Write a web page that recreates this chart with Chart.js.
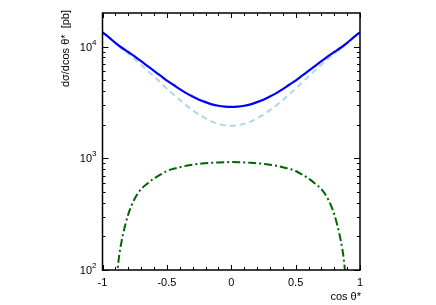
<!DOCTYPE html>
<html>
<head>
<meta charset="utf-8">
<script src="https://cdn.jsdelivr.net/npm/chart.js@4/dist/chart.umd.min.js"></script>
<style>
  html, body { margin: 0; padding: 0; background: #fff; }
</style>
</head>
<body>
<canvas id="chart" width="436" height="305"></canvas>
<script>
// cos theta* grid for the two smooth curves
const cosTheta = [-1, -0.95, -0.9, -0.85, -0.8, -0.75, -0.7, -0.65, -0.6, -0.55, -0.5,
  -0.45, -0.4, -0.35, -0.3, -0.25, -0.2, -0.15, -0.1, -0.05, 0,
  0.05, 0.1, 0.15, 0.2, 0.25, 0.3, 0.35, 0.4, 0.45, 0.5,
  0.55, 0.6, 0.65, 0.7, 0.75, 0.8, 0.85, 0.9, 0.95, 1];

// total (solid blue), pb
const totalXs = [13450, 12080, 10810, 9770, 8955, 8185, 7410, 6700, 6060, 5495, 4970,
  4555, 4163, 3837, 3576, 3352, 3183, 3042, 2954, 2903, 2885,
  2903, 2954, 3042, 3183, 3352, 3576, 3837, 4163, 4555, 4970,
  5495, 6060, 6700, 7410, 8185, 8955, 9770, 10810, 12080, 13450];

// light blue dashed component, pb
const dashedXs = [13450, 12080, 10750, 9580, 8640, 7750, 6880, 6100, 5400, 4780, 4200,
  3750, 3330, 2980, 2700, 2460, 2280, 2130, 2035, 1980, 1960,
  1980, 2035, 2130, 2280, 2460, 2700, 2980, 3330, 3750, 4200,
  4780, 5400, 6100, 6880, 7750, 8640, 9580, 10750, 12080, 13450];

// green dash-dot component, pb
const greenCos = [-0.9, -0.875, -0.85, -0.8, -0.75, -0.7, -0.65, -0.6, -0.55, -0.5,
  -0.45, -0.4, -0.35, -0.3, -0.25, -0.2, -0.15, -0.1, -0.05, 0,
  0.05, 0.1, 0.15, 0.2, 0.25, 0.3, 0.35, 0.4, 0.45, 0.5,
  0.55, 0.6, 0.65, 0.7, 0.75, 0.8, 0.85, 0.875, 0.9];
const greenXs = [60, 122, 185, 315, 435, 530, 596, 660, 715, 770,
  805, 833, 857, 876, 892, 903, 912, 919, 923, 925,
  923, 919, 912, 903, 892, 876, 857, 833, 805, 770,
  715, 660, 596, 530, 435, 315, 185, 122, 60];

// axis ticks
const xMajorTicks = [-1, -0.5, 0, 0.5, 1];
const xMinorTicks = [-0.9, -0.8, -0.7, -0.6, -0.4, -0.3, -0.2, -0.1,
  0.1, 0.2, 0.3, 0.4, 0.6, 0.7, 0.8, 0.9];
const yMajorTicks = [100, 1000, 10000];
const yMajorExp = ["2", "3", "4"];
const yMinorTicks = [200, 300, 400, 500, 600, 700, 800, 900,
  2000, 3000, 4000, 5000, 6000, 7000, 8000, 9000];

const FONT = "'Liberation Sans', Arial, Helvetica, sans-serif";

function pts(xs, ys) {
  return xs.map((x, i) => ({ x: x, y: ys[i] }));
}

// frame, inward ticks, y labels and axis titles
const framePlugin = {
  id: "frame",
  afterDraw(chart) {
    const ctx = chart.ctx;
    const a = chart.chartArea;
    const xs = chart.scales.x;
    const ys = chart.scales.y;
    ctx.save();
    ctx.strokeStyle = "#000";
    ctx.lineWidth = 1;
    ctx.beginPath();
    xMajorTicks.concat(xMinorTicks).forEach(v => {
      const len = xMajorTicks.includes(v) ? 5 : 3;
      const px = Math.round(xs.getPixelForValue(v)) + 0.5;
      ctx.moveTo(px, a.bottom); ctx.lineTo(px, a.bottom - len);
      ctx.moveTo(px, a.top); ctx.lineTo(px, a.top + len);
    });
    yMajorTicks.concat(yMinorTicks).forEach(v => {
      const len = yMajorTicks.includes(v) ? 6 : 3;
      const py = Math.round(ys.getPixelForValue(v)) + 0.5;
      ctx.moveTo(a.left, py); ctx.lineTo(a.left + len, py);
      ctx.moveTo(a.right, py); ctx.lineTo(a.right - len, py);
    });
    ctx.stroke();

    ctx.lineWidth = 1.5;
    ctx.strokeRect(a.left, a.top, a.right - a.left, a.bottom - a.top);

    // y labels 10^n
    ctx.fillStyle = "#000";
    ctx.textAlign = "right";
    ctx.textBaseline = "alphabetic";
    yMajorTicks.forEach((v, i) => {
      const py = ys.getPixelForValue(v);
      ctx.font = "8px " + FONT;
      const ew = ctx.measureText(yMajorExp[i]).width;
      ctx.fillText(yMajorExp[i], a.left - 6, py - 2);
      ctx.font = "11px " + FONT;
      ctx.fillText("10", a.left - 6 - ew, py + 4);
    });

    // x title
    ctx.font = "11px " + FONT;
    ctx.textAlign = "right";
    ctx.textBaseline = "middle";
    ctx.fillText("cos θ*", a.right + 1, 297);

    // y title
    ctx.translate(66, 10);
    ctx.rotate(-Math.PI / 2);
    ctx.textAlign = "right";
    ctx.fillText("dσ/dcos θ*  [pb]", 0, 0);
    ctx.restore();
  }
};

new Chart(document.getElementById("chart"), {
  type: "line",
  data: {
    datasets: [
      {
        label: "total",
        data: pts(cosTheta, totalXs),
        borderColor: "#0000ff",
        borderWidth: 2.2,
        pointRadius: 0,
        cubicInterpolationMode: "monotone"
      },
      {
        label: "green",
        data: pts(greenCos, greenXs),
        borderColor: "#006400",
        borderWidth: 2,
        borderDash: [8, 3, 2, 3],
        pointRadius: 0,
        cubicInterpolationMode: "monotone"
      },
      {
        label: "dashed",
        data: pts(cosTheta, dashedXs),
        borderColor: "#add8e6",
        borderWidth: 2,
        borderDash: [6, 4],
        pointRadius: 0,
        cubicInterpolationMode: "monotone"
      }
    ]
  },
  options: {
    responsive: false,
    animation: false,
    devicePixelRatio: 1,
    layout: { padding: { top: 13, right: 76, left: 0, bottom: 0 } },
    plugins: { legend: { display: false }, tooltip: { enabled: false } },
    scales: {
      x: {
        type: "linear",
        min: -1,
        max: 1,
        grid: { display: false, drawTicks: false },
        border: { display: false },
        ticks: {
          stepSize: 0.5,
          autoSkip: false,
          maxRotation: 0,
          padding: 6,
          color: "#000",
          font: { family: FONT, size: 11 },
          callback: v => String(v)
        },
        afterFit(s) { s.height = 35; }
      },
      y: {
        type: "logarithmic",
        min: 100,
        max: 20000,
        grid: { display: false, drawTicks: false },
        border: { display: false },
        ticks: { display: false },
        afterFit(s) { s.width = 102.5; }
      }
    }
  },
  plugins: [framePlugin]
});
</script>
</body>
</html>
